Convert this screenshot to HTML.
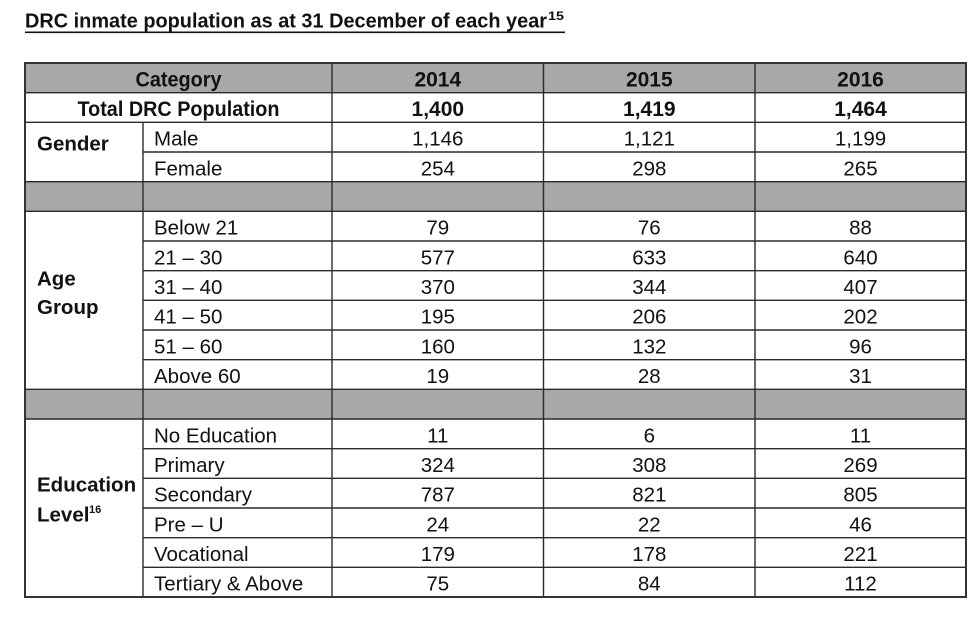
<!DOCTYPE html>
<html><head><meta charset="utf-8"><style>
html,body{margin:0;padding:0;background:#fff;}
svg{display:block;}
text{font-family:"Liberation Sans",Arial,sans-serif;fill:#111;}
.b{font-weight:bold;}
</style></head><body>
<svg width="974" height="619" viewBox="0 0 974 619" xmlns="http://www.w3.org/2000/svg">
<!-- title -->
<text x="25" y="27.5" class="b" font-size="20" textLength="522" lengthAdjust="spacingAndGlyphs">DRC inmate population as at 31 December of each year</text>
<text x="548" y="20" class="b" font-size="11.5" textLength="16" lengthAdjust="spacingAndGlyphs">15</text>
<rect x="25" y="31.5" width="540" height="1.6" fill="#111"/>

<!-- gray fills -->
<rect x="25" y="63" width="941" height="29.7" fill="#a8a8a8"/>
<rect x="25" y="181.7" width="941" height="29.6" fill="#a8a8a8"/>
<rect x="25" y="389.3" width="941" height="29.7" fill="#a8a8a8"/>

<g stroke="#2a2a2a" stroke-width="1.4">
<line x1="25" x2="966" y1="92.7" y2="92.7"/>
<line x1="25" x2="966" y1="122.3" y2="122.3"/>
<line x1="25" x2="966" y1="181.7" y2="181.7"/>
<line x1="25" x2="966" y1="211.3" y2="211.3"/>
<line x1="25" x2="966" y1="389.3" y2="389.3"/>
<line x1="25" x2="966" y1="419" y2="419"/>
<line x1="143" x2="966" y1="152" y2="152"/>
<line x1="143" x2="966" y1="241" y2="241"/>
<line x1="143" x2="966" y1="270.7" y2="270.7"/>
<line x1="143" x2="966" y1="300.3" y2="300.3"/>
<line x1="143" x2="966" y1="330" y2="330"/>
<line x1="143" x2="966" y1="359.7" y2="359.7"/>
<line x1="143" x2="966" y1="448.7" y2="448.7"/>
<line x1="143" x2="966" y1="478.3" y2="478.3"/>
<line x1="143" x2="966" y1="508" y2="508"/>
<line x1="143" x2="966" y1="537.7" y2="537.7"/>
<line x1="143" x2="966" y1="567.3" y2="567.3"/>
<line x1="143" x2="143" y1="122.3" y2="597"/>
<line x1="332" x2="332" y1="63" y2="597"/>
<line x1="543.5" x2="543.5" y1="63" y2="597"/>
<line x1="755" x2="755" y1="63" y2="597"/>
</g>
<rect x="25" y="63" width="941" height="534" fill="none" stroke="#333" stroke-width="2"/>

<!-- header -->
<g class="b" font-size="21" text-anchor="middle">
<text x="178.5" y="86.5" class="b" textLength="86" lengthAdjust="spacingAndGlyphs">Category</text>
<text x="437.8" y="86.5" class="b">2014</text>
<text x="649.3" y="86.5" class="b">2015</text>
<text x="860.5" y="86.5" class="b">2016</text>
<text x="178.5" y="116" class="b" textLength="202" lengthAdjust="spacingAndGlyphs">Total DRC Population</text>
<text x="437.8" y="116" class="b">1,400</text>
<text x="649.3" y="116" class="b">1,419</text>
<text x="860.5" y="116" class="b">1,464</text>
</g>

<!-- group labels -->
<g font-size="20.5">
<text x="37" y="150.5" class="b">Gender</text>
<text x="37" y="285.5" class="b">Age</text>
<text x="37" y="314" class="b">Group</text>
<text x="37" y="491.7" class="b">Education</text>
<text x="37" y="521.7" class="b">Level</text>
</g>
<text x="89" y="513" class="b" font-size="11">16</text>

<!-- sub labels -->
<g font-size="20.5">
<text x="154" y="145.7">Male</text>
<text x="154" y="175.3">Female</text>
<text x="154" y="234.7">Below 21</text>
<text x="154" y="264.3">21 – 30</text>
<text x="154" y="294">31 – 40</text>
<text x="154" y="323.7">41 – 50</text>
<text x="154" y="353.3">51 – 60</text>
<text x="154" y="383">Above 60</text>
<text x="154" y="442.3">No Education</text>
<text x="154" y="472">Primary</text>
<text x="154" y="501.7">Secondary</text>
<text x="154" y="531.3">Pre – U</text>
<text x="154" y="561">Vocational</text>
<text x="154" y="590.7">Tertiary &amp; Above</text>
</g>

<!-- values -->
<g font-size="20.5" text-anchor="middle">
<text x="437.8" y="145.7">1,146</text><text x="649.3" y="145.7">1,121</text><text x="860.5" y="145.7">1,199</text>
<text x="437.8" y="175.3">254</text><text x="649.3" y="175.3">298</text><text x="860.5" y="175.3">265</text>
<text x="437.8" y="234.7">79</text><text x="649.3" y="234.7">76</text><text x="860.5" y="234.7">88</text>
<text x="437.8" y="264.3">577</text><text x="649.3" y="264.3">633</text><text x="860.5" y="264.3">640</text>
<text x="437.8" y="294">370</text><text x="649.3" y="294">344</text><text x="860.5" y="294">407</text>
<text x="437.8" y="323.7">195</text><text x="649.3" y="323.7">206</text><text x="860.5" y="323.7">202</text>
<text x="437.8" y="353.3">160</text><text x="649.3" y="353.3">132</text><text x="860.5" y="353.3">96</text>
<text x="437.8" y="383">19</text><text x="649.3" y="383">28</text><text x="860.5" y="383">31</text>
<text x="437.8" y="442.3">11</text><text x="649.3" y="442.3">6</text><text x="860.5" y="442.3">11</text>
<text x="437.8" y="472">324</text><text x="649.3" y="472">308</text><text x="860.5" y="472">269</text>
<text x="437.8" y="501.7">787</text><text x="649.3" y="501.7">821</text><text x="860.5" y="501.7">805</text>
<text x="437.8" y="531.3">24</text><text x="649.3" y="531.3">22</text><text x="860.5" y="531.3">46</text>
<text x="437.8" y="561">179</text><text x="649.3" y="561">178</text><text x="860.5" y="561">221</text>
<text x="437.8" y="590.7">75</text><text x="649.3" y="590.7">84</text><text x="860.5" y="590.7">112</text>
</g>
</svg>
</body></html>
